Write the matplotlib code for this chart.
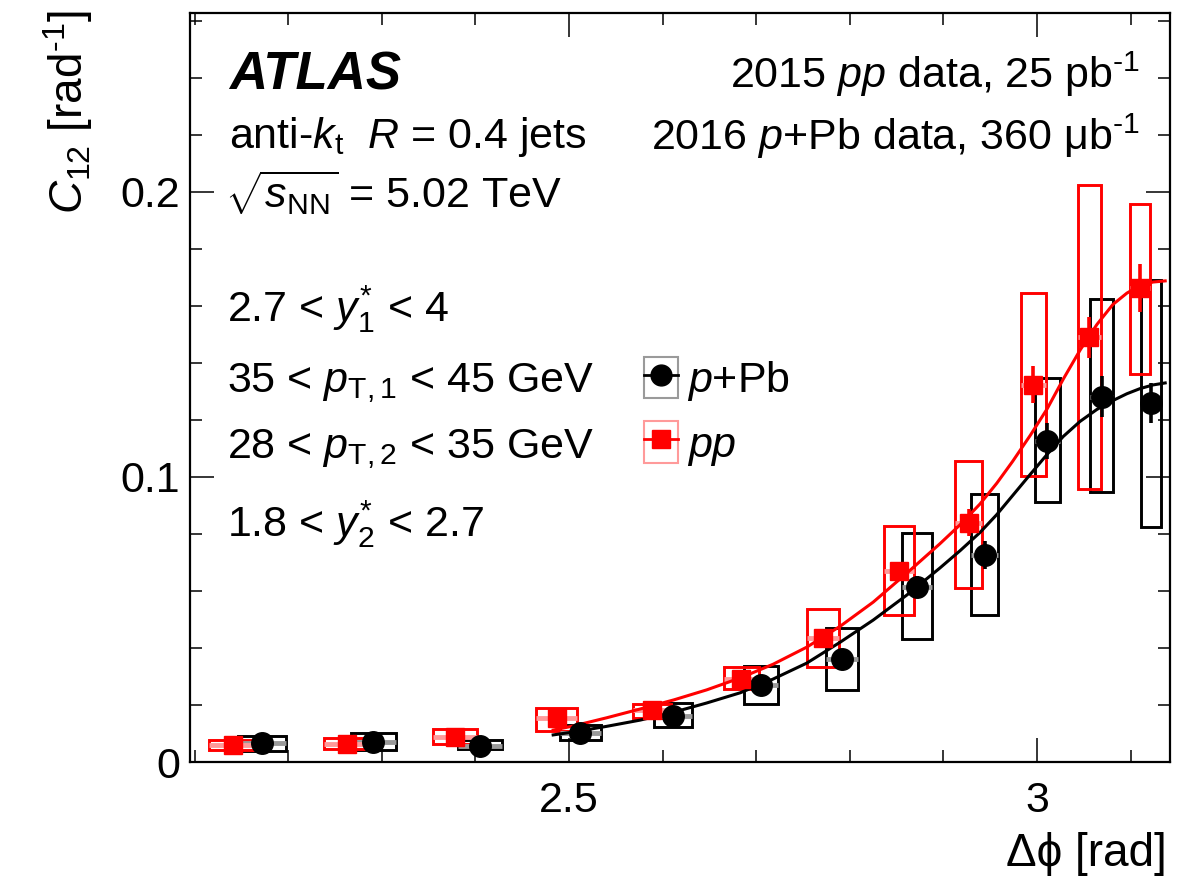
import numpy as np
import matplotlib
matplotlib.use("Agg")
import matplotlib.pyplot as plt
from matplotlib.patches import Rectangle
from matplotlib.lines import Line2D
from matplotlib.legend_handler import HandlerTuple

plt.rcParams['font.family'] = ['Liberation Sans', 'DejaVu Sans']
plt.rcParams['mathtext.fontset'] = 'custom'
plt.rcParams['mathtext.rm'] = 'Liberation Sans'
plt.rcParams['mathtext.it'] = 'Liberation Sans:italic'
plt.rcParams['mathtext.bf'] = 'Liberation Sans:bold'

# p+Pb (black)
pPb_x = [2.172, 2.291, 2.405, 2.512, 2.611, 2.705, 2.792, 2.872, 2.944, 3.011, 3.069, 3.122]
pPb_y = [0.0067, 0.0070, 0.0056, 0.0102, 0.0161, 0.0270, 0.0361, 0.0614, 0.0726, 0.1126, 0.1281, 0.1260]
pPb_stat = [0.0005, 0.0005, 0.0005, 0.0008, 0.0010, 0.0015, 0.0020, 0.0040, 0.0050, 0.0063, 0.0072, 0.0069]
pPb_sys_lo = [0.0039, 0.0042, 0.0046, 0.0077, 0.0123, 0.0204, 0.0253, 0.0432, 0.0516, 0.0912, 0.0947, 0.0825]
pPb_sys_hi = [0.0091, 0.0102, 0.0077, 0.0130, 0.0207, 0.0337, 0.0470, 0.0804, 0.0940, 0.1347, 0.1625, 0.1691]

# pp (red)
pp_x = [2.141, 2.263, 2.378, 2.487, 2.589, 2.684, 2.771, 2.853, 2.927, 2.996, 3.056, 3.110]
pp_y = [0.0060, 0.0063, 0.0088, 0.0154, 0.0182, 0.0291, 0.0435, 0.0670, 0.0839, 0.1323, 0.1491, 0.1663]
pp_stat = [0.0005, 0.0005, 0.0006, 0.0010, 0.0010, 0.0015, 0.0020, 0.0028, 0.0047, 0.0065, 0.0072, 0.0083]
pp_sys_lo = [0.0042, 0.0046, 0.0063, 0.0109, 0.0154, 0.0256, 0.0333, 0.0516, 0.0611, 0.1004, 0.0958, 0.1361]
pp_sys_hi = [0.0077, 0.0084, 0.0116, 0.0189, 0.0204, 0.0333, 0.0537, 0.0828, 0.1056, 0.1646, 0.2025, 0.1958]

# systematic box widths (rad)
box_w = [0.0513, 0.0491, 0.0465, 0.0438, 0.0406, 0.0369, 0.0342, 0.0321, 0.0294, 0.0267, 0.0240, 0.0208]

# fit curves
fit_x = [2.483, 2.504, 2.540, 2.576, 2.612, 2.647, 2.683, 2.718, 2.754, 2.790, 2.825, 2.861,
         2.896, 2.918, 2.939, 2.957, 2.974, 2.993, 3.011, 3.028, 3.046, 3.064, 3.081,
         3.096, 3.110, 3.124, 3.137]
fit_pp = [0.0112, 0.0126, 0.0155, 0.0186, 0.0218, 0.0253, 0.0295, 0.0343, 0.0403, 0.0477,
          0.0561, 0.0663, 0.0765, 0.0833, 0.0905, 0.0978, 0.1055, 0.1147, 0.1240, 0.1343,
          0.1445, 0.1535, 0.1605, 0.1645, 0.1672, 0.1684, 0.1688]
fit_pPb = [0.0095, 0.0105, 0.0125, 0.0147, 0.0175, 0.0207, 0.0243, 0.0291, 0.0347, 0.0421,
           0.0498, 0.0586, 0.0680, 0.0742, 0.0805, 0.0868, 0.0935, 0.1010, 0.1080, 0.1142,
           0.1195, 0.1237, 0.1268, 0.1292, 0.1310, 0.1323, 0.1330]

W, H = 1182, 886
fig = plt.figure(figsize=(W / 100, H / 100), dpi=100)
ax = fig.add_axes([189.5 / W, (H - 762) / H, 980 / W, 749 / H])


def draw_series(x, y, stat, lo, hi, col, light, marker, ms):
    x = np.array(x)
    w = np.array(box_w)
    for xi, wi, l, h in zip(x, w, lo, hi):
        ax.add_patch(Rectangle((xi - wi / 2, l), wi, h - l, fill=False,
                               edgecolor=col, lw=2.1, zorder=2))
    ax.hlines(y, x - w / 2, x + w / 2, colors=light, lw=3.5, zorder=2.5)
    ax.errorbar(x, y, yerr=stat, fmt='none', ecolor=col, elinewidth=2.6,
                capsize=0, zorder=4)
    ax.plot(x, y, linestyle='none', marker=marker, ms=ms, color=col, zorder=5)


draw_series(pPb_x, pPb_y, pPb_stat, pPb_sys_lo, pPb_sys_hi, 'black', '#9a9a9a', 'o', 15.5)
draw_series(pp_x, pp_y, pp_stat, pp_sys_lo, pp_sys_hi, 'red', '#ff9a9a', 's', 13.5)

ax.plot(fit_x, fit_pPb, color='black', lw=2.2, zorder=3)
ax.plot(fit_x, fit_pp, color='red', lw=2.2, zorder=3)

ax.set_xlim(2 * np.pi / 3, np.pi)
ax.set_ylim(0, 0.2628)
ax.set_xticks([2.5, 3.0])
ax.set_xticklabels(['2.5', '3'])
ax.set_xticks(np.arange(2.1, 3.15, 0.1), minor=True)
ax.set_yticks([0, 0.1, 0.2])
ax.set_yticklabels(['0', '0.1', '0.2'])
ax.set_yticks(np.arange(0, 0.262, 0.02), minor=True)
ax.tick_params(which='both', direction='in', top=True, right=True, width=1.1)
ax.tick_params(which='major', length=17, labelsize=31)
ax.tick_params(axis='x', which='major', pad=14)
ax.tick_params(axis='y', which='major', pad=7)
ax.tick_params(which='minor', length=8.5)
for s in ax.spines.values():
    s.set_linewidth(1.6)

ax.set_xlabel('Δϕ [rad]', fontsize=33, loc='right')
ax.xaxis.set_label_coords(1.0 - 2.5 / 980, -70 / 749)
ax.set_ylabel(r'$C_{12}$ [rad$^{\text{-1}}$]', fontsize=33, loc='top')
ax.yaxis.set_label_coords(-94 / 980, 1.0 + 3 / 749)

# legend
h_pPb = (Rectangle((0, 0), 1, 1, fill=False, edgecolor='#9a9a9a', lw=1.5),
         Line2D([], [], color='black', marker='o', ms=15, lw=2))
h_pp = (Rectangle((0, 0), 1, 1, fill=False, edgecolor='#ff9a9a', lw=1.5),
        Line2D([], [], color='red', marker='s', ms=13, lw=2))
ax.legend([h_pPb, h_pp], [r'$p$+Pb', r'$pp$'],
          handler_map={tuple: HandlerTuple(ndivide=1, pad=0)},
          loc='upper left', bbox_to_anchor=((644 - 189.5) / 980, (762 - 357) / 749),
          frameon=False, fontsize=31, handlelength=0.8, handleheight=1.1,
          handletextpad=0.2, labelspacing=0.42, borderpad=0, borderaxespad=0)


def ftext(px, py, s, **kw):
    fig.text(px / W, 1 - py / H, s, va='baseline', **kw)


ftext(229, 90, 'ATLAS', fontsize=38, fontweight='bold', fontstyle='italic')
ftext(229, 148, r'anti-$k_{\mathrm{t}}$  $R$ = 0.4 jets', fontsize=31)
ftext(225, 208, r'$\sqrt{s_{\mathrm{NN}}}$ = 5.02 TeV', fontsize=31)
ftext(1140, 88, r'2015 $pp$ data, 25 pb$^{\text{-1}}$', fontsize=31, ha='right')
ftext(1140, 150, r'2016 $p$+Pb data, 360 μb$^{\text{-1}}$', fontsize=31, ha='right')
ftext(227, 322, r'2.7 < $y_{1}^{*}$ < 4', fontsize=31)
ftext(227, 392, r'35 < $p_{\mathrm{T,1}}$ < 45 GeV', fontsize=31)
ftext(227, 458, r'28 < $p_{\mathrm{T,2}}$ < 35 GeV', fontsize=31)
ftext(227, 537, r'1.8 < $y_{2}^{*}$ < 2.7', fontsize=31)

fig.savefig('out.png', dpi=100)
